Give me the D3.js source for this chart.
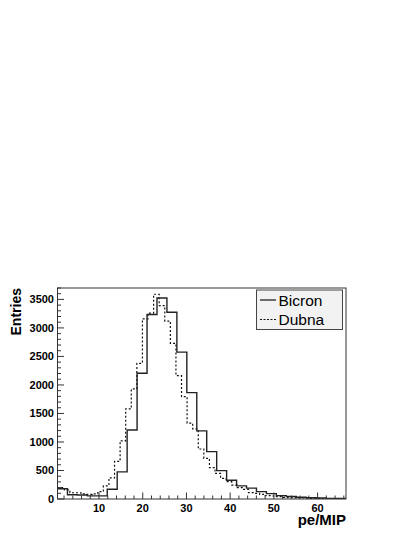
<!DOCTYPE html>
<html>
<head>
<meta charset="utf-8">
<script src="https://cdn.jsdelivr.net/npm/d3@7"></script>
<style>
  html, body { margin: 0; padding: 0; background: #fff; }
  svg { display: block; }
</style>
</head>
<body>
<svg width="415" height="537"></svg>
<script>
// Bicron: 29 bins from 0.5 to 66.5
const bicronLo = 0.5
const bicronWidth = 66 / 29
const bicron = [180, 75, 70, 55, 55, 170, 475, 1210, 2205, 3235, 3525, 3275, 2575, 1865, 1195,
  830, 497, 330, 230, 190, 130, 95, 60, 45, 30, 22, 18, 10, 8]

// Dubna: finer binning, starts a bit below the axis
const dubnaLo = -0.5
const dubnaWidth = 1.277
const dubna = [200, 200, 160, 110, 110, 90, 80, 90, 130, 230, 370, 660, 1020, 1580, 1930,
  2380, 3160, 3260, 3590, 3390, 3120, 2730, 2165, 1795, 1330, 1230, 877, 713, 550, 450,
  363, 304, 245, 200, 170, 111, 100, 82, 58, 53, 41, 29, 23, 20, 18, 15, 12, 10, 8, 6,
  5, 3, 2]

const xTicks = [10, 20, 30, 40, 50, 60]
const yTicks = [0, 500, 1000, 1500, 2000, 2500, 3000, 3500]
const legendLabels = ['Bicron', 'Dubna']

const fLeft = 57.5, fRight = 346, fTop = 288, fBottom = 499
const svg = d3.select('svg')
const font = '"Liberation Sans", Arial, sans-serif'

const x = d3.scaleLinear().domain([0.5, 66.5]).range([fLeft, fRight])
const y = d3.scaleLinear().domain([0, 3700]).range([fBottom, fTop])

svg.append('defs').append('clipPath').attr('id', 'frame')
  .append('rect')
  .attr('x', fLeft).attr('y', fTop)
  .attr('width', fRight - fLeft).attr('height', fBottom - fTop)

function stepPath(values, lo, width) {
  const p = d3.path()
  values.forEach((v, i) => {
    const x0 = x(lo + i * width)
    const x1 = x(lo + (i + 1) * width)
    if (i === 0) p.moveTo(x0, y(v))
    else p.lineTo(x0, y(v))
    p.lineTo(x1, y(v))
  })
  return p.toString()
}

const plot = svg.append('g').attr('clip-path', 'url(#frame)')
plot.append('path')
  .attr('d', stepPath(dubna, dubnaLo, dubnaWidth))
  .attr('fill', 'none')
  .attr('stroke', '#111')
  .attr('stroke-width', 1.2)
  .attr('stroke-dasharray', '2,2')
plot.append('path')
  .attr('d', stepPath(bicron, bicronLo, bicronWidth))
  .attr('fill', 'none')
  .attr('stroke', '#222')
  .attr('stroke-width', 1.4)

// frame
svg.append('rect')
  .attr('x', fLeft).attr('y', fTop)
  .attr('width', fRight - fLeft).attr('height', fBottom - fTop)
  .attr('fill', 'none')
  .attr('stroke', '#333')
  .attr('stroke-width', 1)

// x axis ticks
const xMinor = d3.range(2, 67, 2)
svg.append('g').selectAll('line')
  .data(xMinor)
  .join('line')
  .attr('x1', d => x(d)).attr('x2', d => x(d))
  .attr('y1', fBottom)
  .attr('y2', d => fBottom - (d % 10 === 0 ? 6.5 : 3.5))
  .attr('stroke', '#333')

svg.append('g').selectAll('text')
  .data(xTicks)
  .join('text')
  .attr('x', d => x(d))
  .attr('y', 511.5)
  .attr('text-anchor', 'middle')
  .attr('font-family', font)
  .attr('font-weight', 'bold')
  .attr('font-size', 11)
  .text(d => d)

// y axis ticks
const yMinor = d3.range(0, 3701, 100)
svg.append('g').selectAll('line')
  .data(yMinor)
  .join('line')
  .attr('y1', d => y(d)).attr('y2', d => y(d))
  .attr('x1', fLeft)
  .attr('x2', d => fLeft + (d % 500 === 0 ? 6.5 : 3.5))
  .attr('stroke', '#333')

svg.append('g').selectAll('text')
  .data(yTicks)
  .join('text')
  .attr('x', 54)
  .attr('y', d => y(d))
  .attr('dy', '0.36em')
  .attr('text-anchor', 'end')
  .attr('font-family', font)
  .attr('font-weight', 'bold')
  .attr('font-size', 11)
  .text(d => d)

// axis titles
svg.append('text')
  .attr('transform', `translate(21,${fTop}) rotate(-90)`)
  .attr('text-anchor', 'end')
  .attr('font-family', font)
  .attr('font-weight', 'bold')
  .attr('font-size', 14)
  .text('Entries')

svg.append('text')
  .attr('x', fRight)
  .attr('y', 524.5)
  .attr('text-anchor', 'end')
  .attr('font-family', font)
  .attr('font-weight', 'bold')
  .attr('font-size', 15)
  .text('pe/MIP')

// legend
const lg = svg.append('g')
lg.append('rect')
  .attr('x', 256.5).attr('y', 290)
  .attr('width', 86).attr('height', 39.5)
  .attr('fill', '#f2f2f2')
  .attr('stroke', '#444')
  .attr('stroke-width', 1)

legendLabels.forEach((label, i) => {
  const cy = 300 + i * 19.5
  lg.append('line')
    .attr('x1', 260).attr('x2', 276)
    .attr('y1', cy).attr('y2', cy)
    .attr('stroke', '#111')
    .attr('stroke-width', 1.2)
    .attr('stroke-dasharray', i === 1 ? '2,1.5' : null)
  lg.append('text')
    .attr('x', 278.5)
    .attr('y', cy)
    .attr('dy', '0.36em')
    .attr('font-family', font)
    .attr('font-size', 15.5)
    .text(label)
})
</script>
</body>
</html>
